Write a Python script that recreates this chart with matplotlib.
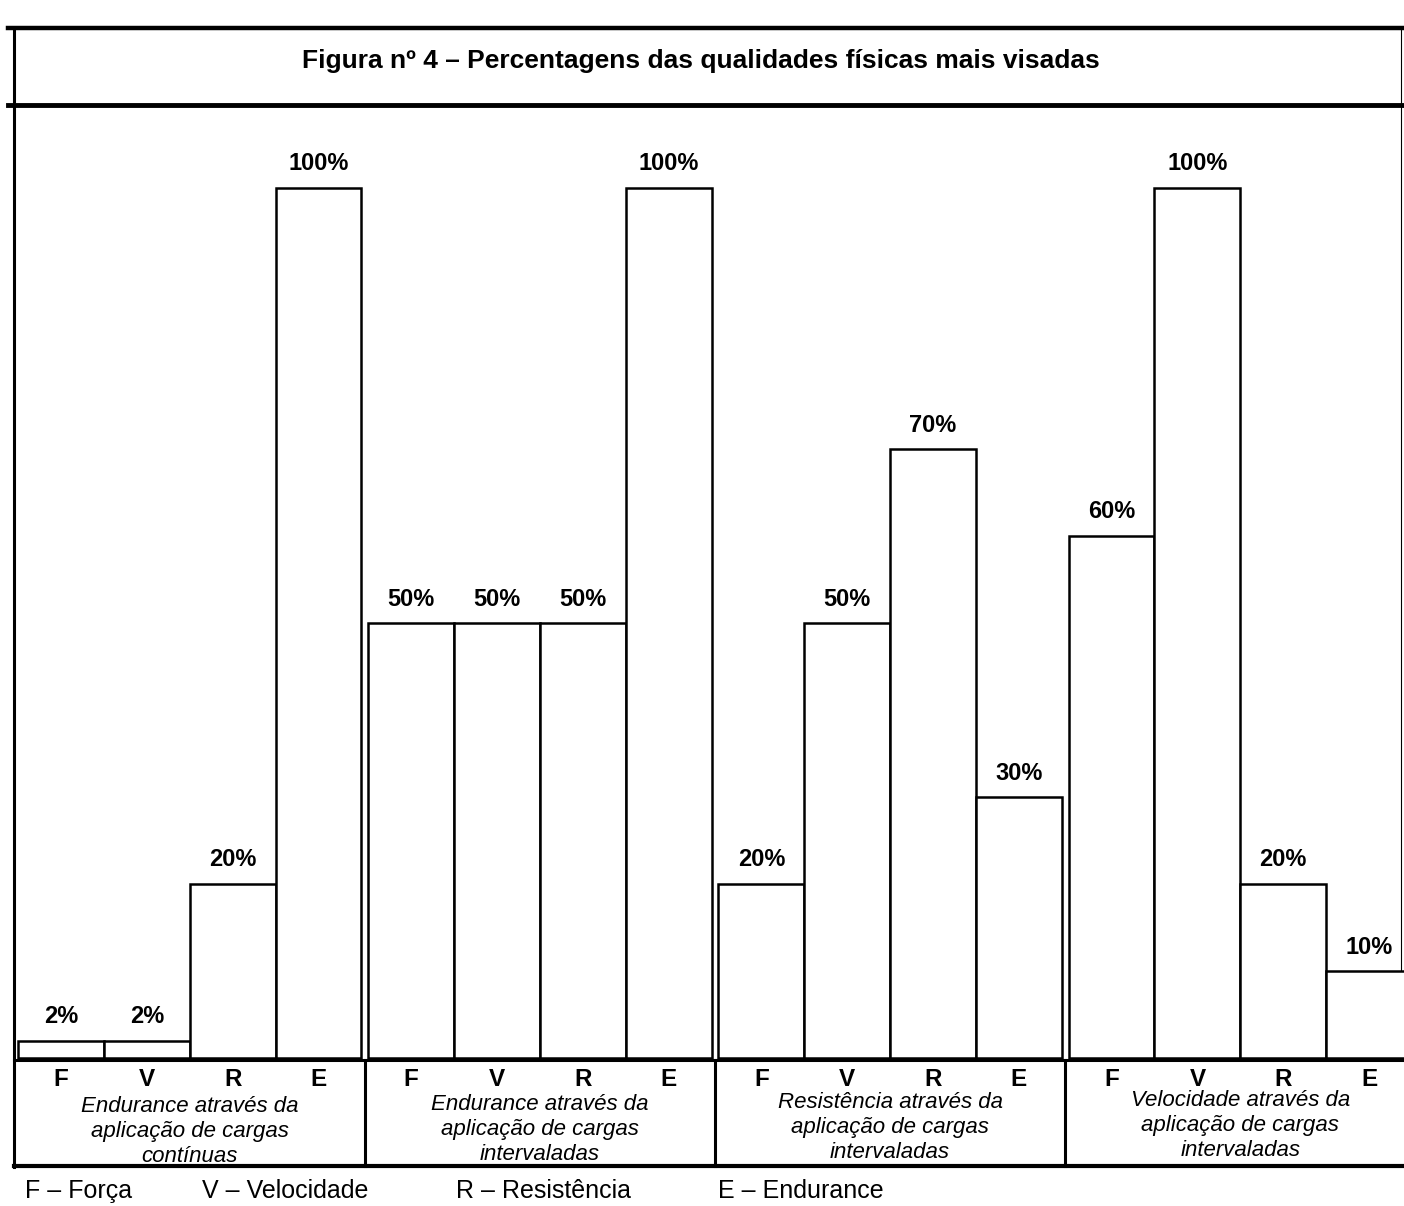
import numpy as np
import matplotlib.pyplot as plt
from matplotlib.transforms import blended_transform_factory

plt.rcParams['font.family'] = ['Liberation Sans', 'DejaVu Sans']

# --- data ---
title = "Figura nº 4 – Percentagens das qualidades físicas mais visadas"
letters = ["F", "V", "R", "E"]
groups = [
    "Endurance através da\naplicação de cargas\ncontínuas",
    "Endurance através da\naplicação de cargas\nintervaladas",
    "Resistência através da\naplicação de cargas\nintervaladas",
    "Velocidade através da\naplicação de cargas\nintervaladas",
]
vals_endur_cont = [2, 2, 20, 100]
vals_endur_int = [50, 50, 50, 100]
vals_resist_int = [20, 50, 70, 30]
vals_veloc_int = [60, 100, 20, 10]
legend_items = ["F – Força", "V – Velocidade", "R – Resistência", "E – Endurance"]
legend_x = [25, 202, 456, 718]

all_vals = [vals_endur_cont, vals_endur_int, vals_resist_int, vals_veloc_int]

W, H = 1404, 1206
fig = plt.figure(figsize=(W / 100, H / 100), dpi=100)

# pixel-space overlay for frames and text
bg = fig.add_axes([0, 0, 1, 1])
bg.set_xlim(0, W)
bg.set_ylim(H, 0)
bg.axis('off')

# bar area
x0, x1, ybase, ytop = 18, 1412, 1058, 108
ax = fig.add_axes([x0 / W, (H - ybase) / H, (x1 - x0) / W, (ybase - ytop) / H])
gap = 0.08
span = 3 * (4 + gap) + 4
ax.set_xlim(0, span)
ax.set_ylim(0, 100 * (ybase - ytop) / (ybase - 188))
ax.axis('off')

trans = blended_transform_factory(ax.transData, bg.transData)

for g, vals in enumerate(all_vals):
    start = g * (4 + gap)
    xs = start + np.arange(4)
    bars = ax.bar(xs, vals, width=1, align='edge', color='white',
                  edgecolor='black', linewidth=1.8, clip_on=False)
    ax.bar_label(bars, labels=[f"{v}%" for v in vals], padding=9,
                 fontsize=17, fontweight='bold')
    for x, lt in zip(xs, letters):
        bg.text(x + 0.5, 1079, lt, transform=trans, ha='center', va='center',
                fontsize=17.5, fontweight='bold')
    bg.text(start + 2, 1131 - g * 2, groups[g], transform=trans, ha='center',
            va='center', fontsize=16, style='italic', linespacing=1.25)
    if g < 3:
        sep = start + 4 + gap / 2
        bg.plot([sep, sep], [1060, 1166], transform=trans, color='black', lw=2.2)

# frames
bg.plot([8, W], [28, 28], color='black', lw=3.2)
bg.plot([8, W], [105, 105], color='black', lw=3.5)
bg.plot([14, 14], [28, 1167], color='black', lw=2.2)
bg.plot([1401, 1401], [28, 1060], color='black', lw=0.8)
bg.plot([14, W], [1060, 1060], color='black', lw=2.2)
bg.plot([14, W], [1166, 1166], color='black', lw=3)

bg.text(701, 61, title, ha='center', va='center', fontsize=19, fontweight='bold')

for lx, item in zip(legend_x, legend_items):
    bg.text(lx, 1191, item, ha='left', va='center', fontsize=18)

plt.savefig('out.png', dpi=100)
